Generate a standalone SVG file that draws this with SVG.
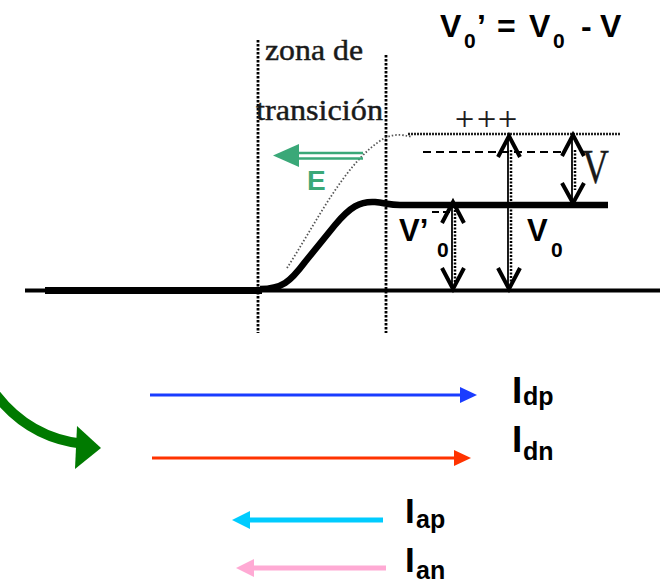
<svg xmlns="http://www.w3.org/2000/svg" width="663" height="583" viewBox="0 0 663 583">
<style>
.b{font-family:"Liberation Sans",Arial,sans-serif;font-weight:bold;fill:#000}
.s{font-family:"Liberation Serif","Times New Roman",serif;fill:#1a1a1a;stroke:#1a1a1a;stroke-width:0.45}
.vdot{stroke:#000;stroke-width:2.8;stroke-dasharray:2.5 1.5;fill:none}
.chev{stroke:#000;stroke-width:4;fill:none;stroke-linecap:butt;stroke-linejoin:miter}
.shaft{stroke:#000;stroke-width:1.8;fill:none}
.shaftdot{stroke:#000;stroke-width:2.5;stroke-dasharray:2 1.5;fill:none}
</style>
<rect width="663" height="583" fill="#fff"/>

<g id="transition-zone">
<line class="vdot" x1="258" y1="40" x2="258" y2="333"/>
<line class="vdot" x1="386" y1="55" x2="386" y2="333"/>
<text class="s" x="265" y="60" font-size="29" textLength="98" lengthAdjust="spacingAndGlyphs">zona de</text>
<text class="s" x="256" y="120" font-size="29" textLength="127" lengthAdjust="spacingAndGlyphs">transición</text>
</g>

<g id="bands">
<line x1="25" y1="290.5" x2="660" y2="290.5" stroke="#000" stroke-width="4"/>
<line x1="45" y1="290.5" x2="262" y2="290.5" stroke="#000" stroke-width="7"/>
<path d="M260,289 C282,289 290,282 305,262 L335,225 C350,207 360,201 375,202 C385,203 390,205 400,205 L608,205" fill="none" stroke="#000" stroke-width="6.5"/>
<path d="M287,268 C315,225 345,162 383,139 Q395,132 412,137" fill="none" stroke="#555" stroke-width="1.8" stroke-dasharray="1.5 2"/>
<line x1="408" y1="134" x2="620" y2="134" stroke="#222" stroke-width="2.5" stroke-dasharray="2 1"/>
<line x1="423" y1="152" x2="562" y2="152" stroke="#000" stroke-width="2" stroke-dasharray="8 5"/>
<line x1="432" y1="212" x2="450" y2="212" stroke="#000" stroke-width="2" stroke-dasharray="7 4"/>
<text class="s" font-size="34" y="130" style="stroke-width:0.2"><tspan x="455">+</tspan><tspan x="477">+</tspan><tspan x="498">+</tspan></text>
<text class="s" x="582" y="183" font-size="48" textLength="27" lengthAdjust="spacingAndGlyphs" style="stroke-width:0.3">V</text>
</g>

<g id="field-E">
<line x1="296" y1="153" x2="363" y2="153" stroke="#3aa878" stroke-width="2.5"/>
<line x1="296" y1="158.5" x2="363" y2="158.5" stroke="#3aa878" stroke-width="2.5"/>
<polygon points="273,155.5 299,144 299,167" fill="#3aa878"/>
<text class="b" x="307" y="190" font-size="28" style="fill:#3aa878">E</text>
</g>

<g id="connectors">
<g id="arrow-V0p">
<line class="shaft" x1="452" y1="203" x2="452" y2="288"/>
<line class="shaftdot" x1="455" y1="210" x2="455" y2="282"/>
<polyline class="chev" points="442,223 453,202 464,223"/>
<polyline class="chev" points="442,268 453,289 464,268"/>
</g>
<g id="arrow-V0">
<line class="shaft" x1="508" y1="136" x2="508" y2="288"/>
<line class="shaftdot" x1="511" y1="150" x2="511" y2="282"/>
<polyline class="chev" points="498,157 509,136 520,157"/>
<polyline class="chev" points="498,268 509,289 520,268"/>
</g>
<g id="arrow-V">
<line class="shaft" x1="572" y1="136" x2="572" y2="202"/>
<line class="shaftdot" x1="575" y1="150" x2="575" y2="190"/>
<polyline class="chev" points="562,156 573,135 584,156"/>
<polyline class="chev" points="562,183 573,203 584,183"/>
</g>
<g id="green-curve">
<path d="M-6,392 Q28,438 84,444" fill="none" stroke="#007a00" stroke-width="10"/>
<polygon points="101,448 77,426 75,469" fill="#007a00"/>
</g>
<g id="I-dp-arrow">
<line x1="150" y1="395" x2="462" y2="395" stroke="#1a3cff" stroke-width="3"/>
<polygon points="477,395 460,387 460,403" fill="#1a3cff"/>
</g>
<g id="I-dn-arrow">
<line x1="152" y1="458" x2="456" y2="458" stroke="#ff3300" stroke-width="3"/>
<polygon points="471,458 454,450 454,466" fill="#ff3300"/>
</g>
<g id="I-ap-arrow">
<line x1="248" y1="520" x2="383" y2="520" stroke="#00ccff" stroke-width="5"/>
<polygon points="232,520 250,511 250,529" fill="#00ccff"/>
</g>
<g id="I-an-arrow">
<line x1="251" y1="568" x2="386" y2="568" stroke="#ffaad4" stroke-width="5"/>
<polygon points="236,568 254,559 254,577" fill="#ffaad4"/>
</g>
</g>

<g id="labels">
<text class="b" font-size="32" y="37"><tspan x="440">V</tspan><tspan x="464" y="48" font-size="21">0</tspan><tspan x="477" y="37">’</tspan><tspan x="497">=</tspan><tspan x="529">V</tspan><tspan x="553" y="48" font-size="21">0</tspan><tspan x="581" y="37">-</tspan><tspan x="600">V</tspan></text>
<text class="b" font-size="31" y="241"><tspan x="399">V’</tspan><tspan x="437" y="257" font-size="21">0</tspan></text>
<text class="b" font-size="31" y="241"><tspan x="527">V</tspan><tspan x="551" y="257" font-size="21">0</tspan></text>
<text class="b" font-size="37" y="403"><tspan x="512">I</tspan><tspan x="523" y="405" font-size="25">dp</tspan></text>
<text class="b" font-size="37" y="452"><tspan x="512">I</tspan><tspan x="523" y="460" font-size="25">dn</tspan></text>
<text class="b" font-size="35" y="523"><tspan x="405">I</tspan><tspan x="416" y="528" font-size="25">ap</tspan></text>
<text class="b" font-size="35" y="572"><tspan x="405">I</tspan><tspan x="416" y="579" font-size="25">an</tspan></text>
</g>
</svg>
